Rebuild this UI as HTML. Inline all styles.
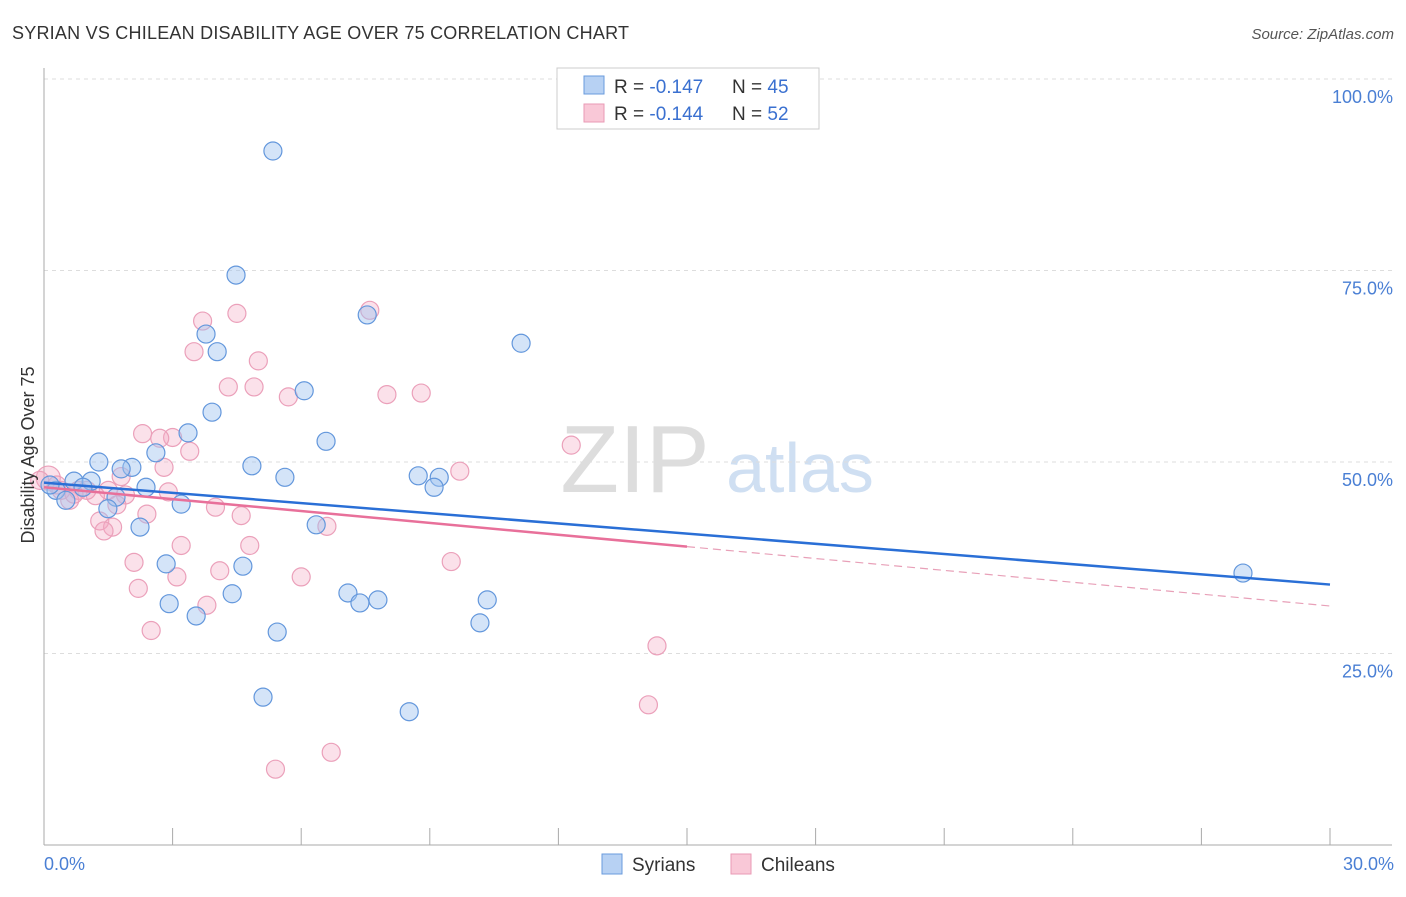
<!DOCTYPE html>
<html><head><meta charset="utf-8"><style>
body{margin:0;background:#fff;font-family:"Liberation Sans",sans-serif}
svg text{font-family:"Liberation Sans",sans-serif}
</style></head><body>
<svg id="c" width="1406" height="892" xmlns="http://www.w3.org/2000/svg">
<text x="12" y="39" font-size="18" fill="#333" textLength="617">SYRIAN VS CHILEAN DISABILITY AGE OVER 75 CORRELATION CHART</text>
<text x="1394" y="39" font-size="15" fill="#555" text-anchor="end" font-style="italic">Source: ZipAtlas.com</text>
<text x="635" y="492" font-size="96" fill="#ddd" font-family="Liberation Serif" text-anchor="middle">ZIP</text>
<text x="800" y="492" font-size="70" fill="#cfdff2" text-anchor="middle">atlas</text>
<g id="grid"></g>
<g id="axes"></g>
<g id="pts"></g>
<g id="lines"></g>
<text transform="translate(34,455) rotate(-90)" font-size="18" fill="#333" text-anchor="middle">Disability Age Over 75</text>
<text x="44" y="870" font-size="18" fill="#4a7fd4">0.0%</text>
<text x="1394" y="870" font-size="18" fill="#4a7fd4" text-anchor="end">30.0%</text>
<g>
<rect x="557" y="68" width="262" height="61" fill="#fff" stroke="#ccc"/>
<rect x="584" y="76" width="20" height="18" fill="#b7d1f3" stroke="#6a9bdc"/>
<rect x="584" y="104" width="20" height="18" fill="#f9c8d7" stroke="#e99ab4"/>
<text x="614" y="93" font-size="19" fill="#333">R = <tspan fill="#3a70d0">-0.147</tspan></text>
<text x="732" y="93" font-size="19" fill="#333">N = <tspan fill="#3a70d0">45</tspan></text>
<text x="614" y="120" font-size="19" fill="#333">R = <tspan fill="#3a70d0">-0.144</tspan></text>
<text x="732" y="120" font-size="19" fill="#333">N = <tspan fill="#3a70d0">52</tspan></text>
</g>
<g>
<rect x="602" y="854" width="20" height="20" fill="#b7d1f3" stroke="#6a9bdc"/>
<text x="632" y="871" font-size="19" fill="#333">Syrians</text>
<rect x="731" y="854" width="20" height="20" fill="#f9c8d7" stroke="#e99ab4"/>
<text x="761" y="871" font-size="19" fill="#333">Chileans</text>
</g>
</svg>
<script>
const syrX=[5.34,4.48,7.54,11.13,3.78,4.04,6.07,3.92,3.36,6.58,2.61,1.28,2.05,1.80,4.85,5.62,8.73,9.22,9.10,0.70,1.10,2.38,0.28,0.51,1.68,1.49,3.20,2.24,6.35,2.85,4.64,4.39,7.09,7.79,10.34,7.37,2.92,3.55,10.17,5.44,5.11,8.52,27.97,0.14,0.91];
const syrY=[90.6,74.4,69.2,65.5,66.7,64.4,59.3,56.5,53.8,52.7,51.2,50.0,49.3,49.1,49.5,48.0,48.2,48.0,46.7,47.5,47.5,46.7,46.3,45.0,45.4,43.9,44.5,41.5,41.8,36.7,36.4,32.8,32.9,32.0,32.0,31.6,31.5,29.9,29.0,27.8,19.3,17.4,35.5,47.0,46.7];
const chiX=[0.1,4.5,7.6,3.7,3.5,5.0,4.3,4.9,5.7,8.0,8.8,2.3,3.0,2.7,3.4,2.8,12.3,9.7,1.8,1.5,2.9,1.2,1.9,0.6,1.7,4.0,2.4,4.6,1.3,1.6,1.4,6.6,3.2,4.8,4.1,2.1,3.1,6.0,9.5,2.2,3.8,2.5,14.3,14.1,6.7,5.4,0.4,0.8,-0.1,0.3,0.7,1.0];
const chiY=[47.9,69.4,69.8,68.4,64.4,63.2,59.8,59.8,58.5,58.8,59.0,53.7,53.2,53.1,51.4,49.3,52.2,48.8,48.1,46.3,46.1,45.6,45.7,45.0,44.4,44.1,43.2,43.0,42.3,41.5,41.0,41.6,39.1,39.1,35.8,36.9,35.0,35.0,37.0,33.5,31.3,28.0,26.0,18.3,12.1,9.9,46.3,46.3,47.6,47.0,45.8,46.3];
const trendSyr=[47.3,34.0];
const trendChi=[46.7,31.2];
const chiSolidEnd=15;
const xTicks=[0,3,6,9,12,15,18,21,24,27,30];
const yTicks=[25,50,75,100];
const yTickLabels=["25.0%","50.0%","75.0%","100.0%"];
const X=v=>44+v/30*1286, Y=v=>845-v/100*766;
const NS="http://www.w3.org/2000/svg";
function mk(tag,attrs,parent){const e=document.createElementNS(NS,tag);for(const k in attrs)e.setAttribute(k,attrs[k]);parent.appendChild(e);return e;}
const grid=document.getElementById('grid'),axes=document.getElementById('axes'),pts=document.getElementById('pts'),lines=document.getElementById('lines');
yTicks.forEach((t,i)=>{
 const l=mk('line',{x1:44,x2:1392,y1:Y(t),y2:Y(t),stroke:'#ddd','stroke-dasharray':'4,4'},grid);
 
 
 const tx=mk('text',{x:1393,y:Y(t)+24,'font-size':18,fill:'#4a7fd4','text-anchor':'end'},grid);
 tx.textContent=yTickLabels[i];
 
 
});
const ya=mk('line',{x1:44,x2:44,y1:68,y2:845,stroke:'#aaa'},axes);


const xa=mk('line',{x1:44,x2:1392,y1:845,y2:845,stroke:'#aaa'},axes);


xTicks.forEach(t=>{
 const l=mk('line',{x1:X(t),x2:X(t),y1:828,y2:845,stroke:'#aaa'},axes);
 
 
});
chiX.forEach((x,i)=>{
 const c=mk('circle',{cx:X(x),cy:Y(chiY[i]),r:i==0?12:9,fill:'rgba(244,168,194,0.35)',stroke:'#eba0ba','stroke-width':1.2},pts);
 
 
});
syrX.forEach((x,i)=>{
 const c=mk('circle',{cx:X(x),cy:Y(syrY[i]),r:9,fill:'rgba(160,196,240,0.45)',stroke:'#6397dc','stroke-width':1.2},pts);
 
 
});
const ly=(tr,x)=>tr[0]+(tr[1]-tr[0])*x/30;
const bl=mk('line',{x1:X(0),y1:Y(trendSyr[0]),x2:X(30),y2:Y(trendSyr[1]),stroke:'#2a6fd6','stroke-width':2.5},lines);


const pl=mk('line',{x1:X(0),y1:Y(trendChi[0]),x2:X(chiSolidEnd),y2:Y(ly(trendChi,chiSolidEnd)),stroke:'#e8709a','stroke-width':2.5},lines);


const pd=mk('line',{x1:X(chiSolidEnd),y1:Y(ly(trendChi,chiSolidEnd)),x2:X(30),y2:Y(trendChi[1]),stroke:'#e8a0b8','stroke-width':1.2,'stroke-dasharray':'8,5'},lines);


</script>
</body></html>
